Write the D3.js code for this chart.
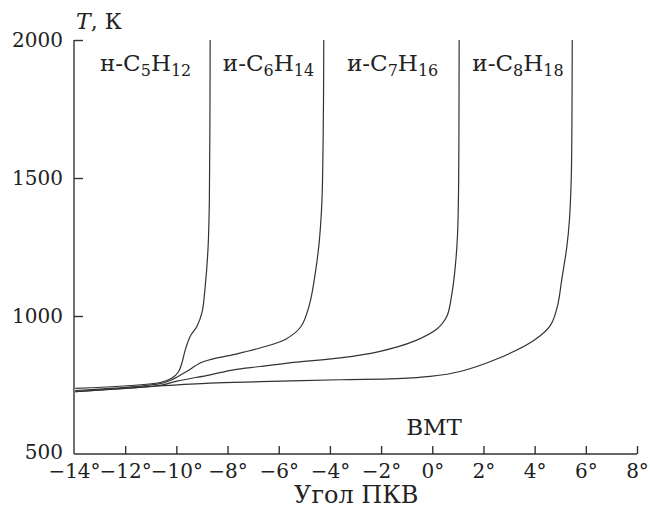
<!DOCTYPE html>
<html>
<head>
<meta charset="utf-8">
<script src="https://cdn.jsdelivr.net/npm/d3@7"></script>
<style>
  html, body { margin: 0; padding: 0; background: #fff; }
  svg { display: block; }
  text { font-family: "DejaVu Serif", serif; fill: #222; }
</style>
</head>
<body>
<div id="chart"></div>
<script>
// Crank angle (degrees) and temperature (K) for each fuel
const c5Angle = [-13.95, -10.63, -10.17, -9.91, -9.78, -9.65, -9.46, -9.2, -9.0, -8.87, -8.76, -8.71, -8.69, -8.68];
const c5Temp  = [738, 759, 775, 799, 831, 878, 926, 962, 1012, 1110, 1250, 1420, 1680, 2000];

const c6Angle = [-13.95, -10.63, -10.17, -9.6, -9.07, -8.68, -7.77, -6.73, -5.71, -5.13, -4.8, -4.57, -4.41, -4.31, -4.27, -4.25, -4.24];
const c6Temp  = [730, 755, 769, 799, 830, 842, 860, 884, 917, 962, 1041, 1156, 1276, 1421, 1603, 1784, 2000];

const c7Angle = [-13.95, -10.63, -9.98, -8.68, -7.77, -6.72, -5.42, -3.6, -2.04, -0.73, 0.18, 0.57, 0.77, 0.9, 0.99, 1.03, 1.045, 1.05];
const c7Temp  = [726, 749, 764, 787, 805, 817, 832, 848, 872, 908, 953, 999, 1083, 1180, 1301, 1482, 1784, 2000];

const c8Angle = [-13.95, -10.63, -8.68, -6.72, -3.6, -1.38, -0.08, 1.09, 2.52, 3.95, 4.61, 4.89, 5.06, 5.26, 5.36, 5.43, 5.455, 5.47];
const c8Temp  = [726, 747, 757, 762, 769, 773, 781, 799, 844, 910, 965, 1035, 1132, 1252, 1349, 1494, 1676, 2000];

// Fuel labels: prefix, carbon count, hydrogen count, label centre angle
const fuelPrefix = ["н-", "и-", "и-", "и-"];
const fuelC = ["5", "6", "7", "8"];
const fuelH = ["12", "14", "16", "18"];
const labelAngle = [-11.2, -6.4, -1.55, 3.35];

const xTicks = [-14, -12, -10, -8, -6, -4, -2, 0, 2, 4, 6, 8];
const yTicks = [500, 1000, 1500, 2000];

const series = [
  { angle: c5Angle, temp: c5Temp },
  { angle: c6Angle, temp: c6Temp },
  { angle: c7Angle, temp: c7Temp },
  { angle: c8Angle, temp: c8Temp }
];

const W = 650, H = 514;
const margin = { left: 74, right: 13, top: 40, bottom: 60 };

const svg = d3.select("#chart").append("svg")
  .attr("width", W).attr("height", H);

const x = d3.scaleLinear().domain([-14, 8]).range([margin.left, W - margin.right]);
const y = d3.scaleLinear().domain([500, 2000]).range([H - margin.bottom, margin.top]);

const minus = "\u2212";
const fmtDeg = d => (d < 0 ? minus + Math.abs(d) : d) + "°";

// Bottom axis with inward ticks
const xAxis = svg.append("g")
  .attr("transform", `translate(0,${y(500)})`)
  .call(d3.axisBottom(x).tickValues(xTicks).tickSize(-8).tickPadding(10).tickFormat(fmtDeg));
xAxis.select(".domain").attr("d", `M${x(-14)},0H${x(8)}`);

// Left axis with inward ticks
const yAxis = svg.append("g")
  .attr("transform", `translate(${x(-14)},0)`)
  .call(d3.axisLeft(y).tickValues(yTicks).tickSize(-9).tickPadding(11).tickFormat(d3.format("d")));
yAxis.select(".domain").attr("d", `M0,${y(2000)}V${y(500)}`);

[xAxis, yAxis].forEach(g => {
  g.attr("font-family", null);
  g.selectAll("path, line").attr("stroke", "#333").attr("stroke-width", 1.4);
  g.selectAll("text").style("font-family", "'DejaVu Serif', serif").style("font-size", "20px").attr("fill", "#222");
});
xAxis.selectAll(".tick").filter(d => d === -14).select("line").remove();
yAxis.selectAll(".tick").filter(d => d === 500).select("line").remove();
yAxis.selectAll(".tick").filter(d => d === 500).select("text").attr("dy", "0.2em");

// Temperature curves
const line = d3.line().x(d => x(d[0])).y(d => y(d[1])).curve(d3.curveCatmullRom.alpha(0.5));
svg.append("g").selectAll("path")
  .data(series)
  .join("path")
  .attr("d", s => line(s.angle.map((a, i) => [a, s.temp[i]])))
  .attr("fill", "none")
  .attr("stroke", "#333")
  .attr("stroke-width", 1.2)
  .attr("stroke-linejoin", "round");

// Fuel labels with subscripts
const labels = svg.append("g");
fuelPrefix.forEach((p, i) => {
  const t = labels.append("text")
    .attr("x", x(labelAngle[i]))
    .attr("y", 71)
    .attr("text-anchor", "middle")
    .style("font-size", "23px");
  t.append("tspan").text(p + "C");
  t.append("tspan").attr("dy", 5).style("font-size", "16px").text(fuelC[i]);
  t.append("tspan").attr("dy", -5).text("H");
  t.append("tspan").attr("dy", 5).style("font-size", "16px").text(fuelH[i]);
});

// Axis titles
const yTitle = svg.append("text")
  .attr("x", x(-14) + 2)
  .attr("y", 29)
  .style("font-size", "22px");
yTitle.append("tspan").style("font-style", "italic").text("T");
yTitle.append("tspan").text(", К");

svg.append("text")
  .attr("x", x(-2.97))
  .attr("y", 503)
  .attr("text-anchor", "middle")
  .style("font-size", "24px")
  .text("Угол ПКВ");

svg.append("text")
  .attr("x", x(0.07))
  .attr("y", y(570))
  .attr("text-anchor", "middle")
  .style("font-size", "23px")
  .text("ВМТ");
</script>
</body>
</html>
